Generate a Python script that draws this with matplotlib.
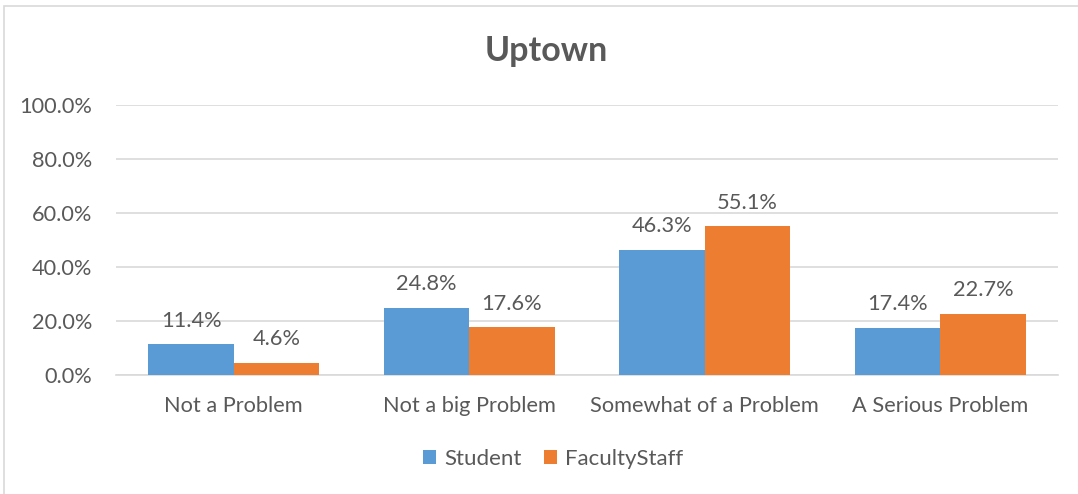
import matplotlib.pyplot as plt
import numpy as np
from matplotlib.patches import Rectangle
from matplotlib.ticker import FuncFormatter

categories = ["Not a Problem", "Not a big Problem", "Somewhat of a Problem", "A Serious Problem"]
student = [11.4, 24.8, 46.3, 17.4]
faculty_staff = [4.6, 17.6, 55.1, 22.7]
series_names = ["Student", "FacultyStaff"]

BLUE = "#5B9BD5"
ORANGE = "#ED7D31"
TEXT = "#595959"
GRID = "#D9D9D9"

plt.rcParams['font.family'] = ['Lato', 'DejaVu Sans']

fig = plt.figure(figsize=(10.78, 4.94), dpi=100)
ax = fig.add_axes([116 / 1078, 1 - 375 / 494, (1058 - 116) / 1078, 270 / 494])

# chart frame, only top and left edges fall inside the image
fig.patches.append(Rectangle((4 / 1078, -0.1), 1.2, 1 - 6 / 494 + 0.1,
                             transform=fig.transFigure, fill=False,
                             edgecolor="#D9D9D9", linewidth=1.2))

x = np.arange(len(categories))
width = 0.363
bars_s = ax.bar(x - width / 2, student, width, color=BLUE, label=series_names[0], zorder=3)
bars_f = ax.bar(x + width / 2, faculty_staff, width, color=ORANGE, label=series_names[1], zorder=3)

for bars, vals in ((bars_s, student), (bars_f, faculty_staff)):
    for bar, v in zip(bars, vals):
        ax.annotate(f"{v:.1f}%", (bar.get_x() + bar.get_width() / 2, v),
                    xytext=(0, 17), textcoords="offset points",
                    ha="center", va="center", fontsize=15.7, color=TEXT)

ax.set_xlim(-0.5, len(categories) - 0.5)
ax.set_ylim(0, 100)
ax.set_yticks(np.arange(0, 101, 20))
ax.yaxis.set_major_formatter(FuncFormatter(lambda v, _: f"{v:.1f}%"))
ax.set_xticks(x)
ax.set_xticklabels(categories)
ax.tick_params(axis="both", length=0, labelsize=15.7, labelcolor=TEXT)
ax.tick_params(axis="x", pad=15)
ax.tick_params(axis="y", pad=17)
ax.grid(axis="y", color=GRID, linewidth=1.2, zorder=0)
for side in ("top", "right", "left"):
    ax.spines[side].set_visible(False)
ax.spines["bottom"].set_color(GRID)
ax.spines["bottom"].set_linewidth(1.2)

fig.text(546 / 1078, 1 - 51 / 494, "Uptown", ha="center", va="center",
         fontsize=24.5, fontweight="bold", color=TEXT)

fig.legend(loc="center", bbox_to_anchor=(553 / 1078, 1 - 459 / 494), ncol=2, frameon=False,
           fontsize=16, labelcolor=TEXT, handlelength=0.6, handleheight=0.6,
           handletextpad=0.35, columnspacing=1.0)

fig.savefig("out.png", dpi=100)
